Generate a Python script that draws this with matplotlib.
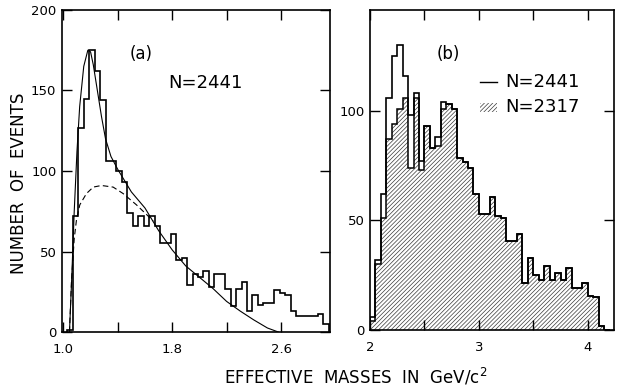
import numpy as np
import matplotlib.pyplot as plt
from matplotlib.patches import Rectangle

plt.rcParams['font.family'] = ['DejaVu Sans']
plt.rcParams['hatch.linewidth'] = 0.5

# panel (a): 0.04 GeV bins starting at 1.03
a_start, a_width = 1.03, 0.04
a_counts = [1, 72, 127, 145, 175, 162, 144, 106, 106, 100, 93,
            74, 66, 72, 66, 72, 66, 55, 55, 61, 45, 46,
            29, 36, 34, 38, 28, 36, 36, 27, 16, 27, 31, 13, 23, 17,
            18, 18, 26, 24, 23, 13, 10, 10, 10, 10, 11, 5]

# fitted curve (solid) and background (dashed)
fit_x = [1.045, 1.06, 1.08, 1.10, 1.12, 1.15, 1.18, 1.20, 1.22, 1.25, 1.28,
         1.31, 1.35, 1.40, 1.45, 1.50, 1.55, 1.60, 1.70, 1.80, 1.90, 2.00,
         2.10, 2.20, 2.30, 2.40, 2.50, 2.58]
fit_y = [0, 30, 75, 112, 140, 165, 175, 174, 166, 150, 134,
         120, 109, 101, 94, 87, 82, 77, 63, 51, 41, 34,
         27, 19, 13, 7.5, 2.5, 0]
bg_x = [1.045, 1.06, 1.08, 1.097, 1.121, 1.17, 1.22, 1.28, 1.366, 1.439,
        1.537, 1.611, 1.66]
bg_y = [0, 32, 58, 70, 79, 86, 90, 91, 90, 86, 79, 73, 69]

# panel (b): 0.05 GeV bins starting at 2.00
b_start, b_width = 2.0, 0.05
b_all = [6, 32, 62, 106, 125, 130, 116, 98, 108, 77, 93, 83, 88, 104, 103,
         101, 78.5, 76.5, 74, 62, 53, 53, 60.5, 52, 51, 40.5, 40.5, 44,
         21.5, 33, 25, 23, 29, 23, 26, 23, 28.5, 19, 19, 21.5, 15.5, 15, 2, 0]
b_sel = [4, 30, 51, 87, 94, 101, 106, 74, 106, 73, 93, 83, 84, 101, 103,
         101, 78.5, 76.5, 74, 62, 53, 53, 60.5, 52, 51, 40.5, 40.5, 44,
         21.5, 33, 25, 23, 29, 23, 26, 23, 28.5, 19, 19, 21.5, 15.5, 15, 2, 0]

a_edges = a_start + a_width * np.arange(len(a_counts) + 1)
b_edges = b_start + b_width * np.arange(len(b_all) + 1)

fig = plt.figure(figsize=(6.18, 3.88), dpi=100)
ax1 = fig.add_axes([0.1003, 0.1443, 0.4337, 0.830])
ax2 = fig.add_axes([0.5987, 0.1495, 0.3948, 0.8247])

# --- (a)
ax1.stairs(a_counts, a_edges, color='k', lw=1.2)
ax1.plot(fit_x, fit_y, color='k', lw=0.8)
ax1.plot(bg_x, bg_y, color='k', lw=0.8, linestyle=(0, (5, 3)))
ax1.set_xlim(0.99, 2.96)
ax1.set_ylim(0, 200)
ax1.set_xticks([1.0, 1.4, 1.8, 2.2, 2.6])
ax1.set_xticklabels(['1.0', '', '1.8', '', '2.6'])
ax1.set_yticks([0, 50, 100, 150, 200])
ax1.text(0.295, 0.863, '(a)', transform=ax1.transAxes, fontsize=12,
         ha='center', va='center')
ax1.text(0.534, 0.773, 'N=2441', transform=ax1.transAxes, fontsize=13,
         ha='center', va='center')

# --- (b)
ax2.stairs(b_sel, b_edges, fill=True, facecolor='white', edgecolor='#3a3a3a',
           hatch='////////', linewidth=0)
ax2.stairs(b_sel, b_edges, color='k', lw=1.1)
ax2.stairs(b_all, b_edges, color='k', lw=1.2)
ax2.set_xlim(2.0, 4.24)
ax2.set_ylim(0, 146)
ax2.set_xticks([2, 2.5, 3, 3.5, 4])
ax2.set_xticklabels(['2', '', '3', '', '4'])
ax2.set_yticks([0, 50, 100])
ax2.text(0.32, 0.8625, '(b)', transform=ax2.transAxes, fontsize=12,
         ha='center', va='center')

# legend drawn by hand
ax2.plot([0.451, 0.52], [0.775, 0.775], color='k', lw=1.0,
         transform=ax2.transAxes)
ax2.text(0.553, 0.775, 'N=2441', transform=ax2.transAxes, fontsize=13,
         va='center')
ax2.add_patch(Rectangle((0.451, 0.681), 0.069, 0.028, transform=ax2.transAxes,
                        facecolor='white', edgecolor='#3a3a3a',
                        hatch='////////', linewidth=0))
ax2.text(0.553, 0.697, 'N=2317', transform=ax2.transAxes, fontsize=13,
         va='center')

for ax in (ax1, ax2):
    ax.tick_params(direction='in', top=True, right=True, length=7, width=1,
                   labelsize=9.5, pad=4)
    ax.tick_params(axis='x', pad=8)
    for s in ax.spines.values():
        s.set_linewidth(1.2)

fig.text(0.031, 0.528, 'NUMBER  OF  EVENTS', rotation=90, fontsize=12,
         ha='center', va='center')
fig.text(0.576, 0.028, r'EFFECTIVE  MASSES  IN  GeV/c$^2$', fontsize=12,
         ha='center', va='center')

fig.savefig('out.png', dpi=100)
